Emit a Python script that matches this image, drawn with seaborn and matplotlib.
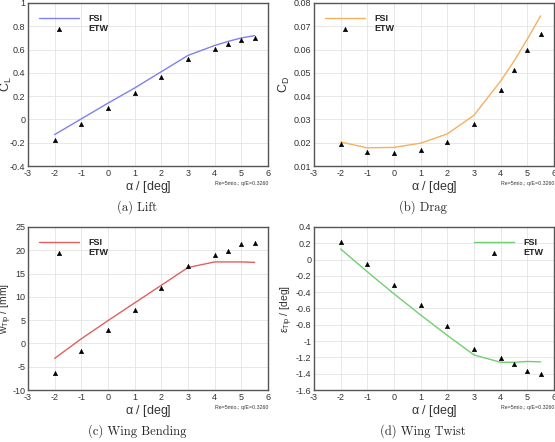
import numpy as np
import pandas as pd
import seaborn as sns
import matplotlib.pyplot as plt
import matplotlib.ticker as ticker
import matplotlib as mpl

mpl.use('Agg')

# ---------------------------------------------------------------
# data
alpha = [-2, -1, 0, 1, 2, 3, 4, 4.5, 5, 5.5]

cl_fsi = [-0.13, 0.005, 0.14, 0.27, 0.41, 0.55, 0.635, 0.67, 0.70, 0.72]
cl_etw = [-0.18, -0.035, 0.095, 0.225, 0.365, 0.515, 0.605, 0.645, 0.68, 0.70]

cd_fsi = [0.0203, 0.0178, 0.0180, 0.0198, 0.0238, 0.0318, 0.0465, 0.0550, 0.0645, 0.0745]
cd_etw = [0.0195, 0.0160, 0.0155, 0.0170, 0.0203, 0.0280, 0.0428, 0.0512, 0.0598, 0.0668]

w_fsi = [-3.2, 1.0, 4.9, 8.7, 12.5, 16.3, 17.5, 17.5, 17.5, 17.4]
w_etw = [-6.3, -1.6, 2.8, 7.2, 11.8, 16.7, 18.9, 19.9, 21.3, 21.6]

eps_fsi = [0.13, -0.15, -0.42, -0.68, -0.93, -1.17, -1.26, -1.26, -1.25, -1.255]
eps_etw = [0.22, -0.055, -0.31, -0.56, -0.81, -1.10, -1.21, -1.28, -1.37, -1.40]

captions = ['(a) Lift', '(b) Drag', '(c) Wing Bending', '(d) Wing Twist']
ylabels = [r'C$_\mathrm{L}$', r'C$_\mathrm{D}$', r'w$_\mathrm{Tip}$ / [mm]', r'$\epsilon_\mathrm{Tip}$ / [deg]']
colors = ['#8080f0', '#f5b060', '#e06060', '#70d070']
note = 'Re=5mio.; q/E=0.3260'
#---------------------------------------------------------------

sns.set_style('white')
plt.rcParams['font.family'] = ['Liberation Sans', 'DejaVu Sans']
plt.rcParams['mathtext.fontset'] = 'custom'
plt.rcParams['mathtext.rm'] = 'Liberation Sans'
plt.rcParams['mathtext.it'] = 'Liberation Sans'
plt.rcParams['axes.unicode_minus'] = False

fig = plt.figure(figsize=(5.55, 4.42), dpi=100)
w = 240 / 555.
h = 163 / 442.
pos = [(28 / 555., 276 / 442.), (314 / 555., 276 / 442.),
       (28 / 555., 52 / 442.), (314 / 555., 52 / 442.)]
ylab_x = [-0.06, -0.092, -0.058, -0.079]

panels = [
    (cl_fsi, cl_etw, (-0.4, 1.0), 0.2, '{:g}'),
    (cd_fsi, cd_etw, (0.01, 0.08), 0.01, '{:.2f}'),
    (w_fsi, w_etw, (-10, 25), 5, '{:g}'),
    (eps_fsi, eps_etw, (-1.6, 0.4), 0.2, '{:g}'),
]

for i, (fsi, etw, ylim, step, fmt) in enumerate(panels):
    ax = fig.add_axes([pos[i][0], pos[i][1], w, h])
    df = pd.DataFrame({'alpha': alpha, 'fsi': fsi, 'etw': etw})
    sns.lineplot(data=df, x='alpha', y='fsi', color=colors[i], lw=1.0, label='FSI', ax=ax)
    sns.scatterplot(data=df, x='alpha', y='etw', color='k', marker='^', s=11,
                    edgecolor='k', linewidth=0.3, label='ETW', ax=ax, zorder=3)
    ax.set_xlim(-3, 6)
    ax.set_ylim(*ylim)
    ax.xaxis.set_major_locator(ticker.MultipleLocator(1))
    ax.yaxis.set_major_locator(ticker.MultipleLocator(step))
    ax.yaxis.set_major_formatter(ticker.FuncFormatter(lambda v, p, f=fmt: f.format(round(v, 4) + 0.0)))
    ax.xaxis.set_minor_locator(ticker.AutoMinorLocator(5))
    ax.yaxis.set_minor_locator(ticker.AutoMinorLocator(5))
    ax.tick_params(which='both', direction='in', color='#444444', labelsize=6.5,
                   labelcolor='#333333', pad=2)
    ax.tick_params(which='major', length=3.5, width=0.6)
    ax.tick_params(which='minor', length=2, width=0.5)
    ax.grid(True, which='major', color='#e4e4e4', lw=0.6)
    ax.set_axisbelow(True)
    for s in ax.spines.values():
        s.set_color('#555555')
        s.set_linewidth(1.0)
    ax.set_xlabel(r'$\alpha$ / [deg]', fontsize=9, color='#333333', labelpad=1)
    ax.set_ylabel(ylabels[i], fontsize=9 if i < 2 else 7.5, color='#333333')
    ax.yaxis.set_label_coords(ylab_x[i], 0.5)
    loc = 'upper right' if i == 3 else 'upper left'
    leg = ax.legend(loc=loc, frameon=False, fontsize=6.5, handlelength=4.5,
                    handletextpad=1.0, labelspacing=0.15, borderaxespad=0.8)
    for t in leg.get_texts():
        t.set_fontweight('bold')
        t.set_color('#222222')
    ax.text(1.0, -0.11, note, transform=ax.transAxes, ha='right', va='center',
            fontsize=3.8, color='#333333')
    ax.text(0.454, -0.25, captions[i], transform=ax.transAxes, ha='center', va='center',
            fontsize=9, family='cmr10')

plt.savefig('out.png', dpi=100)
